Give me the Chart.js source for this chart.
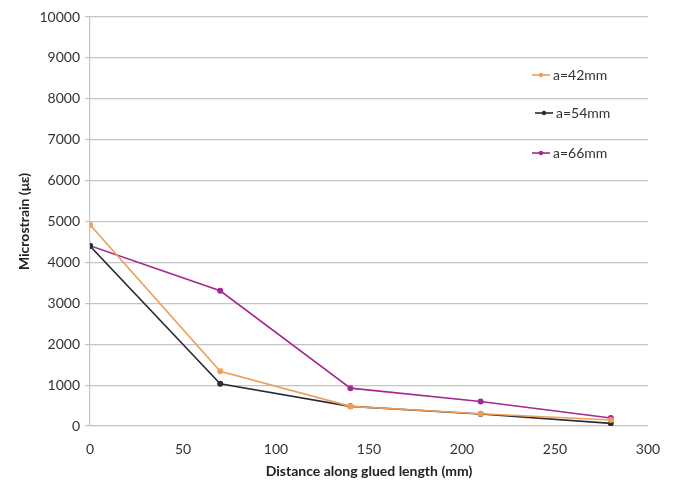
<!DOCTYPE html>
<html>
<head>
<meta charset="utf-8">
<script src="https://cdn.jsdelivr.net/npm/chart.js@4/dist/chart.umd.min.js"></script>
<style>
html,body{margin:0;padding:0;background:#fff;}
#wrap{width:678px;height:484px;position:relative;}
</style>
</head>
<body>
<div id="wrap"><canvas id="c" width="678" height="484"></canvas></div>
<script>
const distances = [0, 70, 140, 210, 280];
const seriesNames = ["a=42mm", "a=54mm", "a=66mm"];
const a42 = [4920, 1340, 480, 300, 145];
const a54 = [4400, 1030, 480, 295, 65];
const a66 = [4410, 3305, 925, 600, 195];
const xTicks = [0, 50, 100, 150, 200, 250, 300];
const yTicks = [0, 1000, 2000, 3000, 4000, 5000, 6000, 7000, 8000, 9000, 10000];

const colors = ["#EE9E58", "#2B2B36", "#A3288F"];
const allSeries = [a42, a54, a66];
const FONT = "Lato, 'Open Sans', 'Liberation Sans', sans-serif";

const datasets = allSeries.map((vals, i) => ({
  label: seriesNames[i],
  data: distances.map((d, j) => ({x: d, y: vals[j]})),
  borderColor: colors[i],
  backgroundColor: colors[i],
  borderWidth: 1.6,
  pointRadius: 2.2,
  pointHoverRadius: 2.2,
  tension: 0
}));

const legendPlugin = {
  id: 'insideLegend',
  afterDatasetsDraw(chart) {
    const ctx = chart.ctx;
    const pos = [
      {y: 75, lx: 532, tx: 553},
      {y: 113, lx: 535, tx: 556},
      {y: 153, lx: 532, tx: 553}
    ];
    ctx.save();
    chart.data.datasets.forEach((ds, i) => {
      const p = pos[i];
      ctx.strokeStyle = ds.borderColor;
      ctx.lineWidth = 1.6;
      ctx.beginPath();
      ctx.moveTo(p.lx, p.y);
      ctx.lineTo(p.lx + 18, p.y);
      ctx.stroke();
      ctx.fillStyle = ds.borderColor;
      ctx.beginPath();
      ctx.arc(p.lx + 9, p.y, 2.2, 0, Math.PI * 2);
      ctx.fill();
      ctx.fillStyle = "#333";
      ctx.font = "14px " + FONT;
      ctx.textBaseline = "middle";
      ctx.textAlign = "left";
      ctx.fillText(ds.label, p.tx, p.y);
    });
    ctx.restore();
  }
};

new Chart(document.getElementById('c'), {
  type: 'line',
  data: {datasets},
  plugins: [legendPlugin],
  options: {
    responsive: false,
    animation: false,
    layout: {padding: {top: 17, right: 30, left: 12, bottom: 0}},
    plugins: {legend: {display: false}, tooltip: {enabled: false}},
    scales: {
      x: {
        type: 'linear',
        min: 0, max: 300,
        afterBuildTicks(scale) { scale.ticks = xTicks.map(v => ({value: v})); },
        ticks: {color: "#333", font: {family: FONT, size: 14}, padding: 7,
                callback: v => String(v)},
        grid: {display: false},
        border: {display: false},
        title: {display: true, text: "Distance along glued length (mm)", color: "#222",
                font: {family: FONT, size: 14, weight: 'bold'}, padding: {top: 0}},
        afterFit(scale) { scale.height = 58; }
      },
      y: {
        type: 'linear',
        min: 0, max: 10000,
        afterBuildTicks(scale) { scale.ticks = yTicks.map(v => ({value: v})); },
        ticks: {color: "#333", font: {family: FONT, size: 14}, padding: 5,
                callback: v => String(v)},
        grid: {color: "#C4C4C4", lineWidth: 1.2, tickLength: 5},
        border: {display: true, color: "#C4C4C4", width: 1.2},
        title: {display: true, text: "Microstrain (με)", color: "#222",
                font: {family: FONT, size: 14, weight: 'bold'}, padding: {bottom: 0}},
        afterFit(scale) { scale.width = 78; }
      }
    }
  }
});
</script>
</body>
</html>
